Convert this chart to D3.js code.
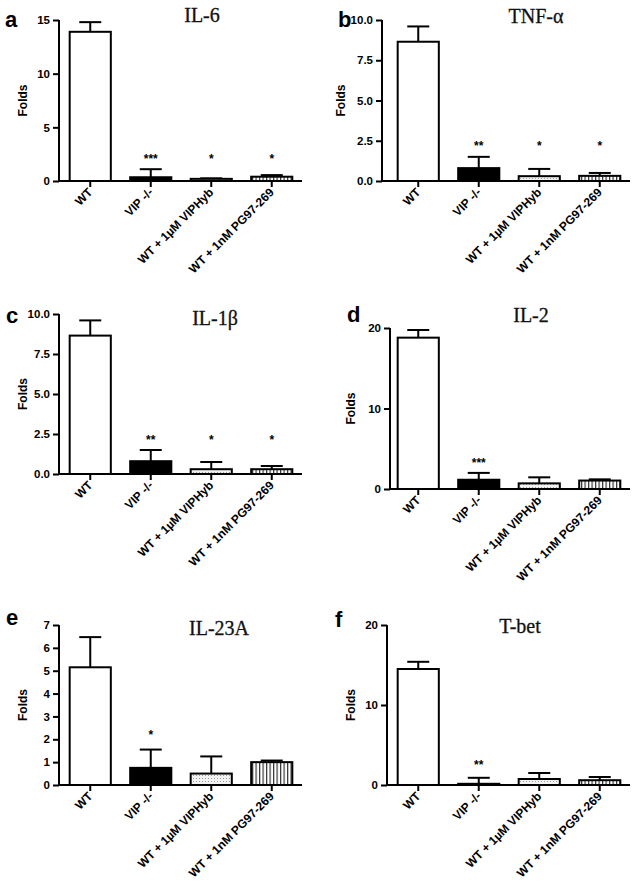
<!DOCTYPE html>
<html>
<head>
<meta charset="utf-8">
<script src="https://cdn.jsdelivr.net/npm/d3@7"></script>
<style>
  html, body { margin: 0; padding: 0; background: #fff; }
  svg { display: block; }
</style>
</head>
<body>
<svg id="chart" width="638" height="892"></svg>
<script>
// ---------- DATA ----------
const categories = ["WT", "VIP -/-", "WT + 1µM VIPHyb", "WT + 1nM PG97-269"];
const panelLetters = ["a", "b", "c", "d", "e", "f"];
const panelTitles = ["IL-6", "TNF-α", "IL-1β", "IL-2", "IL-23A", "T-bet"];

const il6Values   = [13.9, 0.35, 0.2, 0.4];
const il6Errors   = [0.9, 0.75, 0.05, 0.15];
const il6Stars    = ["", "***", "*", "*"];

const tnfValues   = [8.65, 0.8, 0.3, 0.32];
const tnfErrors   = [0.95, 0.7, 0.45, 0.18];
const tnfStars    = ["", "**", "*", "*"];

const il1bValues  = [8.65, 0.8, 0.3, 0.3];
const il1bErrors  = [0.95, 0.7, 0.45, 0.2];
const il1bStars   = ["", "**", "*", "*"];

const il2Values   = [18.8, 1.15, 0.7, 1.05];
const il2Errors   = [0.95, 0.85, 0.75, 0.15];
const il2Stars    = ["", "***", "", ""];

const il23aValues = [5.15, 0.75, 0.5, 1.0];
const il23aErrors = [1.32, 0.8, 0.75, 0.07];
const il23aStars  = ["", "*", "", ""];

const tbetValues  = [14.5, 0.15, 0.75, 0.6];
const tbetErrors  = [0.9, 0.75, 0.75, 0.4];
const tbetStars   = ["", "**", "", ""];

// star label height (in data units) per panel
const starLevels = [2.3, 2.35, 2.3, 3.6, 2.3, 2.9];

// y-axis domains and tick values per panel
const yMaxes = [15, 10, 10, 20, 7, 20];
const yTicks = [
  [0, 5, 10, 15],
  [0, 2.5, 5, 7.5, 10],
  [0, 2.5, 5, 7.5, 10],
  [0, 10, 20],
  [0, 1, 2, 3, 4, 5, 6, 7],
  [0, 10, 20]
];
const yTickFormats = ["d", ".1f", ".1f", "d", "d", "d"];

const allValues = [il6Values, tnfValues, il1bValues, il2Values, il23aValues, tbetValues];
const allErrors = [il6Errors, tnfErrors, il1bErrors, il2Errors, il23aErrors, tbetErrors];
const allStars  = [il6Stars, tnfStars, il1bStars, il2Stars, il23aStars, tbetStars];

// ---------- LAYOUT ----------
const SANS = "'Liberation Sans', Arial, sans-serif";
const SERIF = "'Liberation Serif', 'Times New Roman', serif";

const layouts = [
  {axisX: 59,  y0: 181, yTop: 20,  band: [60, 302],  axisEnd: 302, titleX: 202, titleY: 22,  letterX: 5,   letterY: 27,  foldsX: 23},
  {axisX: 382, y0: 181, yTop: 20,  band: [388, 630], axisEnd: 630, titleX: 536, titleY: 23,  letterX: 338, letterY: 27,  foldsX: 341},
  {axisX: 59,  y0: 474, yTop: 314, band: [60, 302],  axisEnd: 302, titleX: 215, titleY: 325, letterX: 6,   letterY: 323, foldsX: 23},
  {axisX: 390, y0: 489, yTop: 328, band: [388, 630], axisEnd: 630, titleX: 531, titleY: 322, letterX: 347, letterY: 322, foldsX: 351},
  {axisX: 59,  y0: 785, yTop: 625, band: [60, 302],  axisEnd: 302, titleX: 219, titleY: 635, letterX: 6,   letterY: 625, foldsX: 23},
  {axisX: 387, y0: 785, yTop: 625, band: [388, 630], axisEnd: 630, titleX: 520, titleY: 633, letterX: 335, letterY: 627, foldsX: 351}
];

const svg = d3.select("#chart");
svg.append("rect").attr("width", 638).attr("height", 892).attr("fill", "#fff");

// ---------- PATTERNS ----------
const defs = svg.append("defs");
const dots = defs.append("pattern")
  .attr("id", "dots").attr("patternUnits", "userSpaceOnUse")
  .attr("width", 3).attr("height", 3);
dots.append("rect").attr("width", 3).attr("height", 3).attr("fill", "#f2f2f2");
dots.append("rect").attr("x", 1).attr("y", 1).attr("width", 1).attr("height", 1).attr("fill", "#9a9a9a");

const stripes = defs.append("pattern")
  .attr("id", "stripes").attr("patternUnits", "userSpaceOnUse")
  .attr("width", 3.5).attr("height", 4);
stripes.append("rect").attr("width", 3.5).attr("height", 4).attr("fill", "#fff");
stripes.append("rect").attr("x", 0).attr("y", 0).attr("width", 1.2).attr("height", 4).attr("fill", "#333");

const fills = ["#ffffff", "#000000", "url(#dots)", "url(#stripes)"];

// ---------- DRAW ----------
layouts.forEach((L, i) => {
  const g = svg.append("g");
  const values = allValues[i], errors = allErrors[i], stars = allStars[i];

  const x = d3.scaleBand().domain(categories).range(L.band)
    .paddingInner(0.32).paddingOuter(0.16);
  const y = d3.scaleLinear().domain([0, yMaxes[i]]).range([L.y0, L.yTop]);

  const rows = categories.map((c, k) => ({c, k, v: values[k], e: errors[k], s: stars[k]}));

  // error bars (upward only)
  const capW = 22;
  g.selectAll(".err").data(rows).enter().append("line")
    .attr("x1", d => x(d.c) + x.bandwidth() / 2)
    .attr("x2", d => x(d.c) + x.bandwidth() / 2)
    .attr("y1", d => y(d.v))
    .attr("y2", d => y(d.v + d.e))
    .attr("stroke", "#000").attr("stroke-width", 2);
  g.selectAll(".cap").data(rows).enter().append("line")
    .attr("x1", d => x(d.c) + x.bandwidth() / 2 - capW / 2)
    .attr("x2", d => x(d.c) + x.bandwidth() / 2 + capW / 2)
    .attr("y1", d => y(d.v + d.e))
    .attr("y2", d => y(d.v + d.e))
    .attr("stroke", "#000").attr("stroke-width", 2);

  // bars
  g.selectAll(".bar").data(rows).enter().append("rect")
    .attr("x", d => x(d.c))
    .attr("width", x.bandwidth())
    .attr("y", d => y(d.v))
    .attr("height", d => y(0) - y(d.v))
    .attr("fill", d => fills[d.k])
    .attr("stroke", "#000").attr("stroke-width", 2);

  // stars
  g.selectAll(".star").data(rows.filter(d => d.s)).enter().append("text")
    .attr("x", d => x(d.c) + x.bandwidth() / 2)
    .attr("y", y(starLevels[i]))
    .attr("dy", "0.57em")
    .attr("text-anchor", "middle")
    .style("font-family", SANS).style("font-size", "12px").style("font-weight", "bold")
    .text(d => d.s);

  // y axis
  const yAxis = d3.axisLeft(y).tickValues(yTicks[i])
    .tickFormat(d3.format(yTickFormats[i])).tickSize(6).tickSizeOuter(0).tickPadding(3);
  const ya = g.append("g").attr("transform", `translate(${L.axisX},0)`).call(yAxis);
  ya.select(".domain").attr("stroke-width", 2).attr("d", `M0,${L.y0}V${L.yTop}`);
  ya.selectAll(".tick line").attr("stroke-width", 2);
  ya.selectAll(".tick text")
    .style("font-family", SANS).style("font-size", "11.5px").style("font-weight", "bold")
    .attr("fill", "#000");

  // x axis
  const xAxis = d3.axisBottom(x).tickSize(6).tickSizeOuter(0).tickFormat("");
  const xa = g.append("g").attr("transform", `translate(0,${L.y0})`).call(xAxis);
  xa.select(".domain").attr("stroke-width", 2).attr("d", `M${L.axisX - 1},0H${L.axisEnd}`);
  xa.selectAll(".tick line").attr("stroke-width", 2);

  // rotated category labels
  g.selectAll(".xlab").data(categories).enter().append("text")
    .attr("transform", d => `translate(${x(d) + x.bandwidth() / 2 + 3},${L.y0 + 12}) rotate(-45)`)
    .attr("text-anchor", "end")
    .style("font-family", SANS).style("font-size", "12px").style("font-weight", "bold")
    .text(d => d);

  // y label
  g.append("text")
    .attr("transform", `translate(${L.foldsX},${(L.y0 + L.yTop) / 2}) rotate(-90)`)
    .attr("text-anchor", "middle").attr("dy", "0.35em")
    .style("font-family", SANS).style("font-size", "12px").style("font-weight", "bold")
    .text("Folds");

  // title
  g.append("text")
    .attr("x", L.titleX).attr("y", L.titleY)
    .attr("text-anchor", "middle")
    .style("font-family", SERIF).style("font-size", "20px")
    .attr("fill", "#111")
    .attr("stroke", "#111").attr("stroke-width", 0.3)
    .text(panelTitles[i]);

  // panel letter
  g.append("text")
    .attr("x", L.letterX).attr("y", L.letterY)
    .style("font-family", SANS).style("font-size", "22px").style("font-weight", "bold")
    .text(panelLetters[i]);
});
</script>
</body>
</html>
